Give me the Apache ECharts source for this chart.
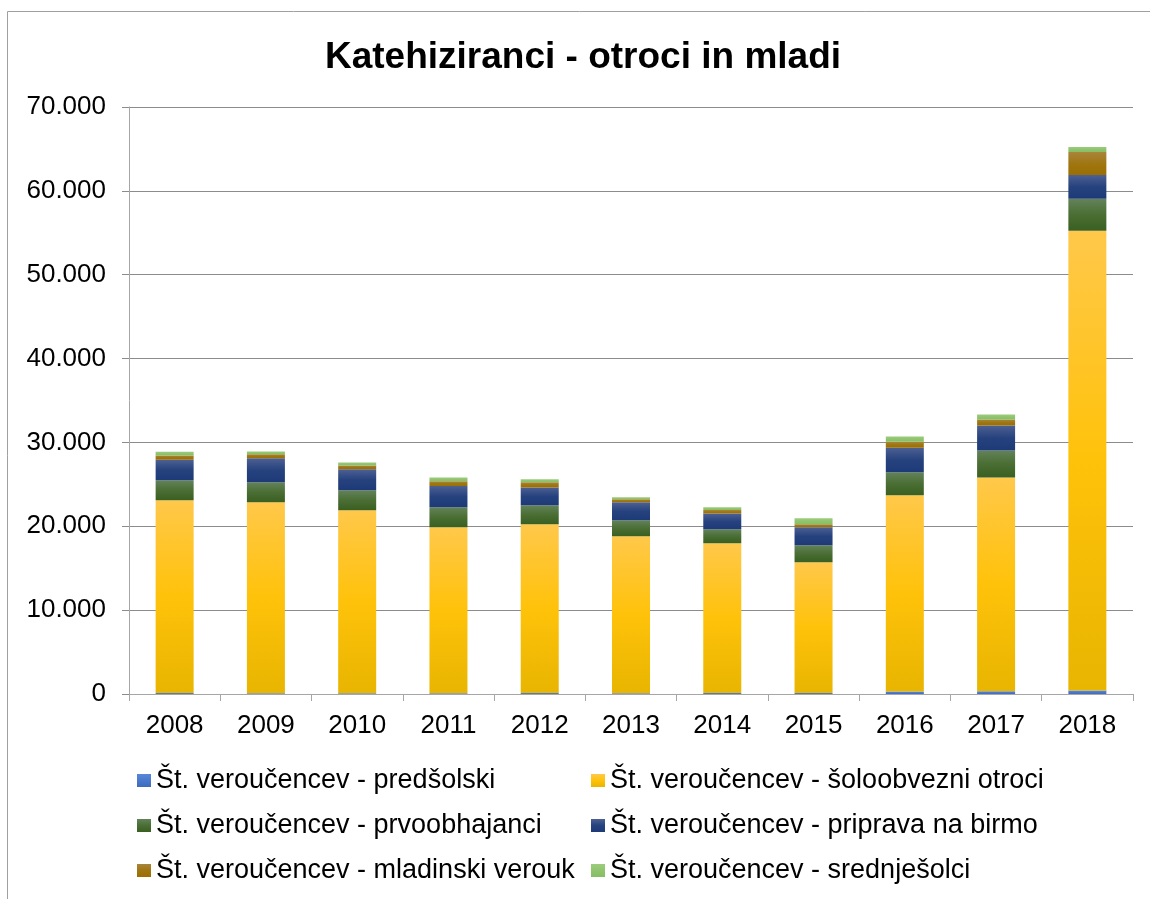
<!DOCTYPE html>
<html>
<head>
<meta charset="utf-8">
<script src="https://cdn.jsdelivr.net/npm/echarts@6/dist/echarts.min.js"></script>
<style>
html,body{margin:0;padding:0;background:#fff;}
#chart{width:1150px;height:899px;}
</style>
</head>
<body>
<div id="chart"></div>
<script>
var categories = ['2008','2009','2010','2011','2012','2013','2014','2015','2016','2017','2018'];
var predsolski   = [110, 100, 90, 100, 110, 100, 120, 130, 300, 320, 420];
var soloobvezni  = [22990, 22760, 21810, 19780, 20130, 18710, 17860, 15580, 23390, 25510, 54820];
var prvoobhajanci= [2380, 2380, 2390, 2380, 2260, 1900, 1660, 2030, 2740, 3220, 3810];
var birma        = [2460, 2860, 2500, 2540, 2140, 2150, 1870, 2140, 2940, 2970, 2850];
var mladinski    = [510, 500, 470, 560, 600, 350, 430, 360, 710, 720, 2740];
var srednjesolci = [450, 330, 360, 470, 360, 240, 320, 710, 630, 590, 600];
var yTicks = [0, 10000, 20000, 30000, 40000, 50000, 60000, 70000];

var seriesNames = [
  'Št. veroučencev - predšolski',
  'Št. veroučencev - šoloobvezni otroci',
  'Št. veroučencev - prvoobhajanci',
  'Št. veroučencev - priprava na birmo',
  'Št. veroučencev - mladinski verouk',
  'Št. veroučencev - srednješolci'
];

function grad(top, mid, bottom) {
  return new echarts.graphic.LinearGradient(0, 0, 0, 1, [
    {offset: 0, color: top},
    {offset: 0.5, color: mid},
    {offset: 1, color: bottom}
  ]);
}
var colors = [
  grad('#5A88D8', '#4A78CC', '#3E6BBE'),
  grad('#FFC84A', '#FFC20A', '#E8B500'),
  grad('#63825A', '#4A6E33', '#3A5F22'),
  grad('#4D6092', '#26427E', '#1D3A78'),
  grad('#A8853C', '#A07612', '#9A6E00'),
  grad('#9CCC7C', '#90C46E', '#86BF63')
];
var dataSets = [predsolski, soloobvezni, prvoobhajanci, birma, mladinski, srednjesolci];

var series = dataSets.map(function (d, i) {
  return {
    name: seriesNames[i],
    type: 'bar',
    stack: 'total',
    barWidth: 38,
    data: d,
    itemStyle: {color: colors[i]},
    emphasis: {disabled: true}
  };
});

function fmt(v) {
  return String(v).replace(/\B(?=(\d{3})+(?!\d))/g, '.');
}

var legendText = {fontFamily: 'Liberation Sans', fontSize: 27, color: '#000', lineHeight: 27};

var chart = echarts.init(document.getElementById('chart'));
chart.setOption({
  animation: false,
  backgroundColor: '#fff',
  title: {
    text: 'Katehiziranci - otroci in mladi',
    left: 578,
    textAlign: 'center',
    top: 34,
    textStyle: {fontFamily: 'Liberation Sans', fontSize: 37, fontWeight: 'bold', color: '#000'}
  },
  graphic: [{
    type: 'rect',
    shape: {x: 7.5, y: 11.5, width: 1300, height: 1000},
    style: {fill: 'none', stroke: '#a0a0a0', lineWidth: 1},
    silent: true
  }],
  grid: {left: 129, right: 17, top: 107, bottom: 205},
  legend: [{
    orient: 'vertical',
    left: 137,
    top: 767,
    padding: 0,
    icon: 'rect',
    itemWidth: 14,
    itemHeight: 13,
    itemGap: 18,
    data: [seriesNames[0], seriesNames[2], seriesNames[4]],
    textStyle: legendText
  }, {
    orient: 'vertical',
    left: 591,
    top: 767,
    padding: 0,
    icon: 'rect',
    itemWidth: 14,
    itemHeight: 13,
    itemGap: 18,
    data: [seriesNames[1], seriesNames[3], seriesNames[5]],
    textStyle: legendText
  }],
  xAxis: {
    type: 'category',
    data: categories,
    axisLine: {lineStyle: {color: '#a6a6a6', width: 1}},
    axisTick: {show: true, length: 7, lineStyle: {color: '#a6a6a6'}},
    axisLabel: {fontFamily: 'Liberation Sans', fontSize: 26, color: '#000', margin: 19}
  },
  yAxis: {
    type: 'value',
    min: yTicks[0],
    max: yTicks[yTicks.length - 1],
    interval: yTicks[1] - yTicks[0],
    axisLine: {show: true, lineStyle: {color: '#a6a6a6'}},
    axisTick: {show: true, length: 7, lineStyle: {color: '#8c8c8c'}},
    splitLine: {lineStyle: {color: '#8c8c8c', width: 1}},
    axisLabel: {fontFamily: 'Liberation Sans', fontSize: 26, color: '#000', margin: 23, formatter: fmt}
  },
  series: series
});
</script>
</body>
</html>
